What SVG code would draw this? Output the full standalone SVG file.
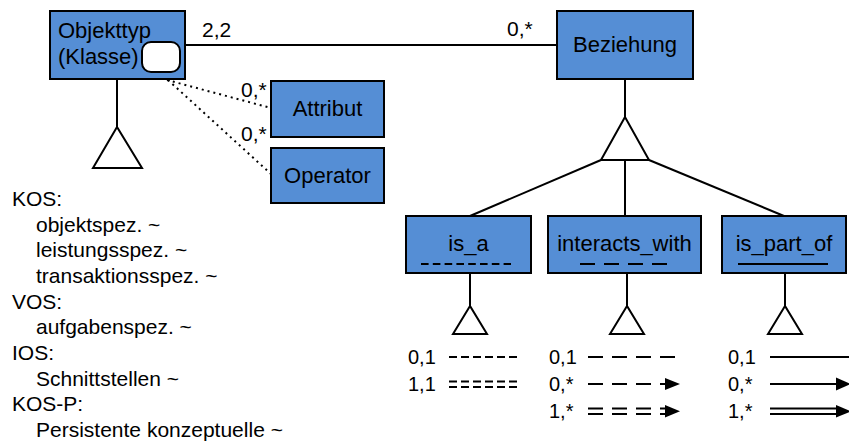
<svg xmlns="http://www.w3.org/2000/svg" width="849" height="443" viewBox="0 0 849 443">
<defs>
<style>
.box{fill:#558ED5;stroke:#000;stroke-width:2}
.lbl{font-family:"Liberation Sans",Arial,sans-serif;font-size:22px;fill:#000}
.txt{font-family:"Liberation Sans",Arial,sans-serif;font-size:21px;fill:#000}
.leg{font-family:"Liberation Sans",Arial,sans-serif;font-size:20px;fill:#000}
.ln{stroke:#000;stroke-width:2;fill:none}
.tri{fill:#fff;stroke:#000;stroke-width:2;stroke-linejoin:miter}
.dot{stroke:#000;stroke-width:2;fill:none;stroke-dasharray:2 4}
.mid{text-anchor:middle}
</style>
</defs>
<rect width="849" height="443" fill="#fff"/>

<g id="connectors">
<line class="ln" x1="185" y1="45" x2="557" y2="45"/>
<line class="dot" x1="167" y1="80" x2="271" y2="108"/>
<line class="dot" x1="168" y1="80" x2="271" y2="174"/>
<line class="ln" x1="117" y1="79" x2="117" y2="127"/>
<polygon class="tri" points="117,127 93,168 142,168"/>
<line class="ln" x1="625" y1="79" x2="625" y2="117"/>
<polygon class="tri" points="625,117 601,160 649,160"/>
<line class="ln" x1="601" y1="160" x2="470" y2="216"/>
<line class="ln" x1="625" y1="160" x2="625" y2="216"/>
<line class="ln" x1="649" y1="160" x2="784" y2="216"/>
<line class="ln" x1="470" y1="273" x2="470" y2="306"/>
<polygon class="tri" points="470,306 453,334 487,334"/>
<line class="ln" x1="627" y1="273" x2="627" y2="306"/>
<polygon class="tri" points="627,306 610,334 644,334"/>
<line class="ln" x1="785" y1="273" x2="785" y2="306"/>
<polygon class="tri" points="785,306 768,334 802,334"/>
<text class="txt" x="202" y="37">2,2</text>
<text class="txt" x="507" y="36">0,*</text>
<text class="txt" x="241" y="97">0,*</text>
<text class="txt" x="241" y="141">0,*</text>
</g>

<g id="objekttyp">
<rect class="box" x="50" y="11" width="135" height="68"/>
<text class="lbl" x="58" y="38">Objekttyp</text>
<text class="lbl" x="58" y="64">(Klasse)</text>
<rect x="142" y="42" width="38" height="30" rx="9" fill="#fff" stroke="#000" stroke-width="2"/>
</g>

<g id="beziehung">
<rect class="box" x="557" y="11" width="136" height="68"/>
<text class="lbl mid" x="625" y="52">Beziehung</text>
</g>

<g id="attribut">
<rect class="box" x="271" y="81" width="113" height="56"/>
<text class="lbl mid" x="327.5" y="116">Attribut</text>
</g>

<g id="operator">
<rect class="box" x="271" y="148" width="113" height="55"/>
<text class="lbl mid" x="327.5" y="183">Operator</text>
</g>

<g id="is_a">
<rect class="box" x="406" y="216" width="125" height="57"/>
<text class="lbl mid" x="468.5" y="251">is_a</text>
<line x1="421" y1="264" x2="511" y2="264" stroke="#000" stroke-width="2" stroke-dasharray="7.6 4.2"/>
</g>

<g id="interacts_with">
<rect class="box" x="548" y="216" width="153" height="57"/>
<text class="lbl mid" x="624.5" y="251">interacts_with</text>
<line x1="580" y1="264" x2="667" y2="264" stroke="#000" stroke-width="2" stroke-dasharray="15 9"/>
</g>

<g id="is_part_of">
<rect class="box" x="722" y="216" width="124" height="57"/>
<text class="lbl mid" x="784" y="251">is_part_of</text>
<line x1="738" y1="264" x2="828" y2="264" stroke="#000" stroke-width="2"/>
</g>

<g id="list">
<text class="txt" x="12" y="206">KOS:</text>
<text class="txt" x="36" y="231.7">objektspez. ~</text>
<text class="txt" x="36" y="257.3">leistungsspez. ~</text>
<text class="txt" x="36" y="283">transaktionsspez. ~</text>
<text class="txt" x="12" y="308.7">VOS:</text>
<text class="txt" x="36" y="334.3">aufgabenspez. ~</text>
<text class="txt" x="12" y="360">IOS:</text>
<text class="txt" x="36" y="385.7">Schnittstellen ~</text>
<text class="txt" x="12" y="411.3">KOS-P:</text>
<text class="txt" x="36" y="437">Persistente konzeptuelle ~</text>
</g>

<g id="legend">
<text class="leg" x="408" y="364">0,1</text>
<line x1="449" y1="357" x2="517" y2="357" stroke="#000" stroke-width="2" stroke-dasharray="8 4"/>
<text class="leg" x="408" y="391">1,1</text>
<line x1="449" y1="381.5" x2="517" y2="381.5" stroke="#000" stroke-width="2" stroke-dasharray="8 4"/>
<line x1="449" y1="387" x2="517" y2="387" stroke="#000" stroke-width="2" stroke-dasharray="8 4"/>

<text class="leg" x="549" y="364">0,1</text>
<line x1="588" y1="357" x2="675" y2="357" stroke="#000" stroke-width="2" stroke-dasharray="15 9"/>
<text class="leg" x="549" y="391">0,*</text>
<line x1="588" y1="384" x2="667" y2="384" stroke="#000" stroke-width="2" stroke-dasharray="15 9"/>
<polygon points="665,378 680,384 665,390" fill="#000"/>
<text class="leg" x="549" y="418">1,*</text>
<line x1="588" y1="408.5" x2="667" y2="408.5" stroke="#000" stroke-width="2" stroke-dasharray="15 9"/>
<line x1="588" y1="414" x2="667" y2="414" stroke="#000" stroke-width="2" stroke-dasharray="15 9"/>
<polygon points="665,405 680,411.3 665,417.5" fill="#000"/>

<text class="leg" x="728" y="364">0,1</text>
<line x1="770" y1="357" x2="849" y2="357" stroke="#000" stroke-width="2"/>
<text class="leg" x="728" y="391">0,*</text>
<line x1="770" y1="384" x2="838" y2="384" stroke="#000" stroke-width="2"/>
<polygon points="836,377.5 851,384 836,390.5" fill="#000"/>
<text class="leg" x="728" y="418">1,*</text>
<line x1="770" y1="408.5" x2="838" y2="408.5" stroke="#000" stroke-width="2"/>
<line x1="770" y1="414" x2="838" y2="414" stroke="#000" stroke-width="2"/>
<polygon points="836,405 851,411.3 836,417.5" fill="#000"/>
</g>
</svg>
